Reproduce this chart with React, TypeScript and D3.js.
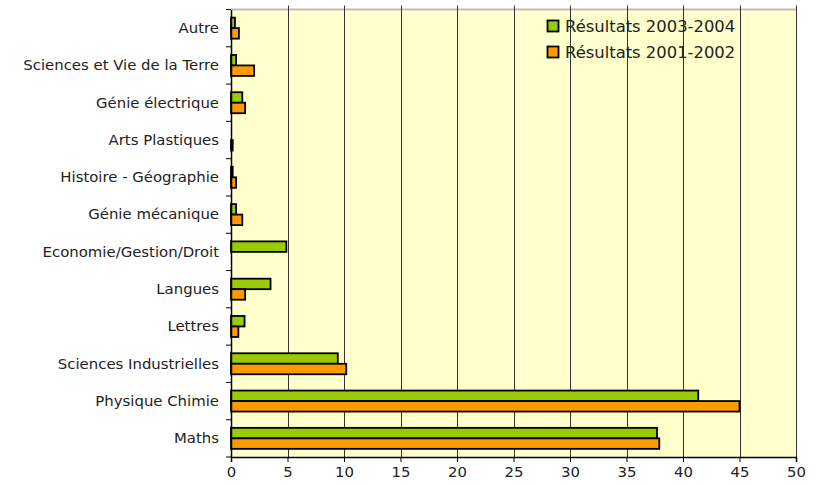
import React, { useEffect, useRef } from 'react';
import * as d3 from 'd3';

// catégories, de bas en haut
const categories = [
  'Maths',
  'Physique Chimie',
  'Sciences Industrielles',
  'Lettres',
  'Langues',
  'Economie/Gestion/Droit',
  'Génie mécanique',
  'Histoire - Géographie',
  'Arts Plastiques',
  'Génie électrique',
  'Sciences et Vie de la Terre',
  'Autre',
];
const results2003 = [37.7, 41.35, 9.45, 1.2, 3.5, 4.9, 0.45, 0.15, 0, 1.0, 0.45, 0.35];
const results2001 = [37.9, 45.0, 10.2, 0.65, 1.25, 0, 1.0, 0.45, 0.15, 1.25, 2.05, 0.7];
const seriesNames = ['Résultats 2003-2004', 'Résultats 2001-2002'];
const xTicks = [0, 5, 10, 15, 20, 25, 30, 35, 40, 45, 50];

const colors = ['#99cc00', '#ff9900'];
const font = '"DejaVu Sans", Verdana, sans-serif';

export default function App() {
  const ref = useRef<SVGSVGElement>(null);

  useEffect(() => {
    const svg = d3.select(ref.current);
    svg.selectAll('*').remove();

    const left = 231;
    const right = 796;
    const top = 9.5;
    const bottom = 457;

    const x = d3.scaleLinear().domain([0, 50]).range([left, right]);
    const y = d3
      .scaleBand()
      .domain(categories.slice().reverse())
      .range([top, bottom]);
    const barH = 10.5;

    // fond du graphique
    svg
      .append('rect')
      .attr('x', left)
      .attr('y', top)
      .attr('width', right - left)
      .attr('height', bottom - top)
      .attr('fill', '#ffffcc');

    // bordure haute grise
    svg
      .append('line')
      .attr('x1', left)
      .attr('x2', right + 1)
      .attr('y1', top)
      .attr('y2', top)
      .attr('stroke', '#bdbdbd')
      .attr('stroke-width', 2);

    // grille verticale
    svg
      .append('g')
      .selectAll('line')
      .data(xTicks.slice(1))
      .enter()
      .append('line')
      .attr('x1', (d) => Math.round(x(d)) + 0.5)
      .attr('x2', (d) => Math.round(x(d)) + 0.5)
      .attr('y1', top - 4)
      .attr('y2', bottom)
      .attr('stroke', '#333')
      .attr('stroke-width', 1);

    // barres
    const series = [results2003, results2001];
    const barsG = svg.append('g').attr('class', 'bars');
    series.forEach((vals, si) => {
      barsG
        .selectAll(`rect.s${si}`)
        .data(vals.map((v, i) => ({ v, c: categories[i] })).filter((d) => d.v > 0))
        .enter()
        .append('rect')
        .attr('class', `s${si}`)
        .attr('x', x(0))
        .attr('y', (d) => y(d.c)! + y.bandwidth() / 2 - barH + si * barH)
        .attr('width', (d) => x(d.v) - x(0))
        .attr('height', barH)
        .attr('fill', colors[si])
        .attr('stroke', '#000')
        .attr('stroke-width', 1.8);
    });

    // axe Y
    const axisY = d3.axisLeft(y).tickSize(0).tickPadding(12);
    const gy = svg
      .append('g')
      .attr('transform', `translate(${left},0)`)
      .call(axisY);
    gy.select('.domain').attr('stroke', '#000').attr('stroke-width', 1.5);
    gy.selectAll('text')
      .attr('font-family', font)
      .attr('font-size', 14.9)
      .attr('fill', '#222');
    // graduations entre catégories
    svg
      .append('g')
      .selectAll('line')
      .data(d3.range(categories.length + 1))
      .enter()
      .append('line')
      .attr('x1', left - 5)
      .attr('x2', left)
      .attr('y1', (i) => top + i * y.step())
      .attr('y2', (i) => top + i * y.step())
      .attr('stroke', '#000');

    // axe X
    const axisX = d3
      .axisBottom(x)
      .tickValues(xTicks)
      .tickSize(5)
      .tickPadding(4);
    const gx = svg
      .append('g')
      .attr('transform', `translate(0,${bottom})`)
      .call(axisX);
    gx.select('.domain').attr('stroke', '#000').attr('stroke-width', 1.5);
    gx.selectAll('line').attr('stroke', '#000');
    gx.selectAll('text')
      .attr('font-family', font)
      .attr('font-size', 14.9)
      .attr('fill', '#222');

    // légende
    const legend = svg
      .append('g')
      .attr('transform', 'translate(547,20)');
    seriesNames.forEach((name, i) => {
      const g = legend.append('g').attr('transform', `translate(0,${i * 26})`);
      g.append('rect')
        .attr('x', 0.5)
        .attr('y', 0.5)
        .attr('width', 11)
        .attr('height', 11)
        .attr('fill', colors[i])
        .attr('stroke', '#000')
        .attr('stroke-width', 1.8);
      g.append('text')
        .attr('x', 18)
        .attr('y', 6.5)
        .attr('dy', '0.35em')
        .attr('font-family', font)
        .attr('font-size', 16.4)
        .attr('fill', '#222')
        .text(name);
    });
  }, []);

  return (
    <div style={{ position: 'absolute', left: 0, top: 0 }}>
      <svg ref={ref} width={816} height={485} style={{ display: 'block', background: '#fff' }} />
    </div>
  );
}
